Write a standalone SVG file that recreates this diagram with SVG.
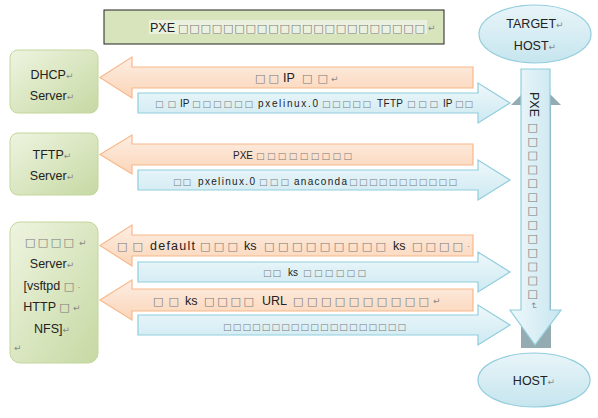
<svg xmlns="http://www.w3.org/2000/svg" width="598" height="418" viewBox="0 0 598 418">
<defs>
<linearGradient id="gGreen" x1="0" y1="0" x2="1" y2="1"><stop offset="0" stop-color="#eef4e0"/><stop offset="1" stop-color="#c6d9a3"/></linearGradient>
<linearGradient id="gOrange" x1="0" y1="0" x2="0" y2="1"><stop offset="0" stop-color="#fdeee3"/><stop offset="1" stop-color="#fbd5b8"/></linearGradient>
<linearGradient id="gBlue" x1="0" y1="0" x2="0" y2="1"><stop offset="0" stop-color="#eef8fb"/><stop offset="1" stop-color="#cde9f1"/></linearGradient>
<linearGradient id="gBlueV" x1="0" y1="0" x2="1" y2="0"><stop offset="0" stop-color="#eef8fb"/><stop offset="1" stop-color="#c8e6ef"/></linearGradient>
<linearGradient id="gEll" x1="0" y1="0" x2="0" y2="1"><stop offset="0" stop-color="#e8f5f9"/><stop offset="1" stop-color="#c6e5ee"/></linearGradient>
</defs>
<style>
text{font-family:"Liberation Sans","DejaVu Sans",sans-serif;fill:#222;}
.s{font-size:10px;}
.n{font-size:12.5px;}
.b{fill:#7a7a7a;font-family:"DejaVu Sans",sans-serif;}
.n.b{font-size:11px;}
.s.b{font-size:9px;}
.r{fill:#888;font-size:9px;}
.node{fill:url(#gGreen);stroke:#c3d69b;stroke-width:1;}
.orange{fill:url(#gOrange);stroke:#f8b88a;stroke-width:1.2;}
.blue{fill:url(#gBlue);stroke:#92cddc;stroke-width:1.2;}
.ell{fill:url(#gEll);stroke:#92cddc;stroke-width:1.2;}
</style>
<g id="title">
<rect x="104" y="10" width="340" height="34" fill="#d8e4bc" stroke="#222" stroke-width="1"/>
<rect x="149" y="20" width="278" height="14" fill="#ebf1de"/>
<text class="n" x="150" y="31.5">PXE</text>
<text class="n b" x="178" y="31.5" textLength="247" lengthAdjust="spacing">□□□□□□□□□□□□□□□□□□□□□□</text>
<text class="r" x="428" y="31">↵</text>
</g>
<g id="target">
<ellipse cx="535" cy="34" rx="56" ry="29" class="ell"/>
<text class="n" x="535" y="28" text-anchor="middle">TARGET<tspan class="r">↵</tspan></text>
<text class="n" x="535" y="50" text-anchor="middle">HOST<tspan class="r">↵</tspan></text>
</g>
<g id="host">
<ellipse cx="534" cy="380" rx="56" ry="27" class="ell"/>
<text class="n" x="534" y="385" text-anchor="middle">HOST<tspan class="r">↵</tspan></text>
</g>
<g id="dhcp">
<rect x="10" y="50" width="88" height="63" rx="8" class="node"/>
<text class="n" x="52" y="79" text-anchor="middle">DHCP<tspan class="r">↵</tspan></text>
<text class="n" x="52" y="100" text-anchor="middle">Server<tspan class="r">↵</tspan></text>
</g>
<g id="tftp">
<rect x="10" y="133" width="88" height="62" rx="8" class="node"/>
<text class="n" x="52" y="159" text-anchor="middle">TFTP<tspan class="r">↵</tspan></text>
<text class="n" x="52" y="180" text-anchor="middle">Server<tspan class="r">↵</tspan></text>
</g>
<g id="files">
<rect x="10" y="222" width="88" height="141" rx="10" class="node"/>
<text class="n b" x="25" y="246" textLength="49" lengthAdjust="spacing">□□□□</text>
<text class="r" x="79" y="246">↵</text>
<text class="n" x="52" y="268" text-anchor="middle">Server<tspan class="r">↵</tspan></text>
<text class="n" x="52" y="290" text-anchor="middle">[vsftpd <tspan class="b" font-size="11">□</tspan> <tspan class="r">·</tspan></text>
<text class="n" x="52" y="311" text-anchor="middle">HTTP <tspan class="b" font-size="11">□</tspan> <tspan class="r">↵</tspan></text>
<text class="n" x="52" y="333" text-anchor="middle">NFS]<tspan class="r">↵</tspan></text>
<text class="r" x="14" y="351">↵</text>
</g>
<g id="vertical">
<path d="M536,80 L561,105 L551,105 L551,348 L521,348 L521,105 L511,105 Z" fill="#94abb1"/>
<path d="M521,69 L550,69 L550,310 L561,310 L535,345 L510,310 L521,310 Z" fill="url(#gBlueV)" stroke="#92cddc" stroke-width="1.2"/>
<text class="n" transform="translate(530,92) rotate(90)">PXE</text>
<text class="n b" transform="translate(530,123) rotate(90)" textLength="177" lengthAdjust="spacing">□□□□□□□□□□□□□</text>
<text class="r" transform="translate(531,302) rotate(90)">↵</text>
</g>
<g id="connectors">
<path class="orange" d="M100,77.5 L132,57 L132,67 L473,67 L473,88 L132,88 L132,98 Z"/>
<path class="blue" d="M138,93 L478,93 L478,83 L510,103 L478,123 L478,113 L138,113 Z"/>
<path class="orange" d="M100,154.5 L132,135 L132,144 L473,144 L473,165 L132,165 L132,174 Z"/>
<path class="blue" d="M138,170 L478,170 L478,160 L510,180 L478,200 L478,190 L138,190 Z"/>
<path class="orange" d="M100,245.5 L132,225 L132,235 L473,235 L473,256 L132,256 L132,266 Z"/>
<path class="blue" d="M138,262 L478,262 L478,252 L510,272 L478,292 L478,282 L138,282 Z"/>
<path class="orange" d="M100,300 L132,280 L132,289 L473,289 L473,311 L132,311 L132,320 Z"/>
<path class="blue" d="M138,315 L478,315 L478,305 L510,325 L478,345 L478,335 L138,335 Z"/>
<!-- orange 1 -->
<text class="n b" x="255" y="82" textLength="24" lengthAdjust="spacing">□□</text>
<text class="n" x="283" y="82">IP</text>
<text class="n b" x="302" y="82" textLength="26" lengthAdjust="spacing">□□</text>
<text class="r" x="331" y="82">↵</text>
<!-- blue 1 -->
<text class="s b" x="155" y="107" textLength="21" lengthAdjust="spacing">□□</text>
<text class="s" x="180" y="107">IP</text>
<text class="s b" x="192" y="107" textLength="61" lengthAdjust="spacing">□□□□□□</text>
<text class="s" x="258" y="107" textLength="60" lengthAdjust="spacing">pxelinux.0</text>
<text class="s b" x="322" y="107" textLength="49" lengthAdjust="spacing">□□□□□</text>
<text class="s" x="377" y="107" textLength="26" lengthAdjust="spacing">TFTP</text>
<text class="s b" x="407" y="107" textLength="31" lengthAdjust="spacing">□□□</text>
<text class="s" x="443" y="107">IP</text>
<text class="s b" x="455" y="107" textLength="18" lengthAdjust="spacing">□□</text>
<!-- orange 2 -->
<text class="s" x="233" y="159">PXE</text>
<text class="s b" x="256" y="159" textLength="96" lengthAdjust="spacing">□□□□□□□□□</text>
<!-- blue 2 -->
<text class="s b" x="173" y="185" textLength="18" lengthAdjust="spacing">□□</text>
<text class="s" x="198" y="185" textLength="57" lengthAdjust="spacing">pxelinux.0</text>
<text class="s b" x="259" y="185" textLength="30" lengthAdjust="spacing">□□□</text>
<text class="s" x="294" y="185" textLength="53" lengthAdjust="spacing">anaconda</text>
<text class="s b" x="349" y="185" textLength="108" lengthAdjust="spacing">□□□□□□□□□□□</text>
<!-- orange 3 -->
<text class="n b" x="117" y="250" textLength="26" lengthAdjust="spacing">□□</text>
<text class="n" x="150" y="250" textLength="45" lengthAdjust="spacing">default</text>
<text class="n b" x="200" y="250" textLength="38" lengthAdjust="spacing">□□□</text>
<text class="n" x="244" y="250">ks</text>
<text class="n b" x="264" y="250" textLength="122" lengthAdjust="spacing">□□□□□□□□□</text>
<text class="n" x="393" y="250">ks</text>
<text class="n b" x="412" y="250" textLength="51" lengthAdjust="spacing">□□□□</text>
<text class="r" x="467" y="249">·</text>
<!-- blue 3 -->
<text class="s b" x="263" y="276" textLength="18" lengthAdjust="spacing">□□</text>
<text class="s" x="288" y="276">ks</text>
<text class="s b" x="303" y="276" textLength="63" lengthAdjust="spacing">□□□□□□</text>
<!-- orange 4 -->
<text class="n b" x="153" y="304.5" textLength="26" lengthAdjust="spacing">□□</text>
<text class="n" x="185" y="304.5">ks</text>
<text class="n b" x="204" y="304.5" textLength="50" lengthAdjust="spacing">□□□□</text>
<text class="n" x="262" y="304.5">URL</text>
<text class="n b" x="293" y="304.5" textLength="136" lengthAdjust="spacing">□□□□□□□□□□</text>
<text class="r" x="433" y="304">↵</text>
<!-- blue 4 -->
<text class="s b" x="223" y="330" textLength="183" lengthAdjust="spacing">□□□□□□□□□□□□□□□□□□□</text>
</g>
</svg>
